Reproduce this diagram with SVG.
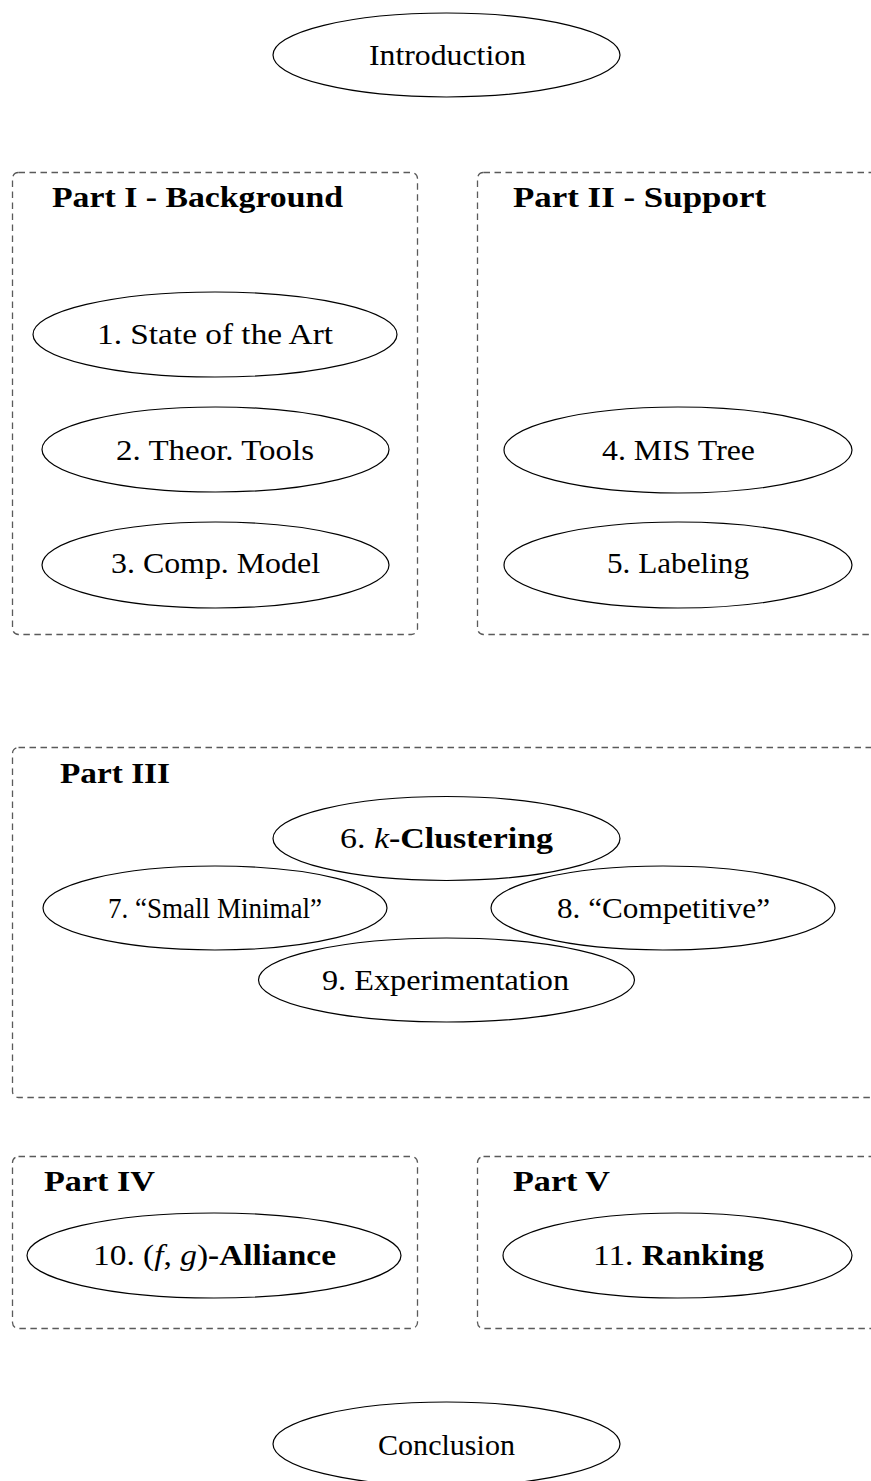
<svg xmlns="http://www.w3.org/2000/svg" width="871" height="1481" viewBox="0 0 871 1481">
<style>
  .part { fill: none; stroke: #5a5a5a; stroke-width: 1.3; stroke-dasharray: 6.5 4.5; }
  .node { fill: #ffffff; stroke: #000000; stroke-width: 1.2; }
  text { font-family: "Liberation Serif", "DejaVu Serif", serif; font-size: 30px; fill: #000000; }
  .title { font-weight: bold; }
  .b { font-weight: bold; }
  .i { font-style: italic; }
</style>
<rect width="871" height="1481" fill="#ffffff"/>
<g id="connectors"></g>
<g id="part1">
  <rect class="part" x="12.5" y="172.5" width="405" height="462" rx="6"/>
  <text class="title" x="52" y="207" textLength="291" lengthAdjust="spacingAndGlyphs">Part I - Background</text>
</g>
<g id="part2">
  <rect class="part" x="477.5" y="172.5" width="405" height="462" rx="6"/>
  <text class="title" x="513" y="207" textLength="253" lengthAdjust="spacingAndGlyphs">Part II - Support</text>
</g>
<g id="part3">
  <rect class="part" x="12.5" y="747.5" width="870" height="350" rx="6"/>
  <text class="title" x="60" y="783" textLength="110" lengthAdjust="spacingAndGlyphs">Part III</text>
</g>
<g id="part4">
  <rect class="part" x="12.5" y="1156.5" width="405" height="172" rx="6"/>
  <text class="title" x="44" y="1191" textLength="111" lengthAdjust="spacingAndGlyphs">Part IV</text>
</g>
<g id="part5">
  <rect class="part" x="477.5" y="1156.5" width="405" height="172" rx="6"/>
  <text class="title" x="513" y="1191" textLength="97" lengthAdjust="spacingAndGlyphs">Part V</text>
</g>
<g id="introduction">
  <ellipse class="node" cx="446.5" cy="55" rx="173.5" ry="42"/>
  <text x="369" y="65" textLength="157" lengthAdjust="spacingAndGlyphs">Introduction</text>
</g>
<g id="n1">
  <ellipse class="node" cx="215" cy="334.5" rx="182" ry="42.5"/>
  <text x="97" y="344" textLength="236" lengthAdjust="spacingAndGlyphs">1. State of the Art</text>
</g>
<g id="n2">
  <ellipse class="node" cx="215.5" cy="449.5" rx="173.5" ry="42.5"/>
  <text x="116" y="460" textLength="198" lengthAdjust="spacingAndGlyphs">2. Theor. Tools</text>
</g>
<g id="n3">
  <ellipse class="node" cx="215.5" cy="565" rx="173.5" ry="43"/>
  <text x="111" y="573" textLength="209" lengthAdjust="spacingAndGlyphs">3. Comp. Model</text>
</g>
<g id="n4">
  <ellipse class="node" cx="678" cy="450" rx="174" ry="43"/>
  <text x="602" y="460" textLength="153" lengthAdjust="spacingAndGlyphs">4. MIS Tree</text>
</g>
<g id="n5">
  <ellipse class="node" cx="678" cy="565" rx="174" ry="43"/>
  <text x="607" y="573" textLength="142" lengthAdjust="spacingAndGlyphs">5. Labeling</text>
</g>
<g id="n6">
  <ellipse class="node" cx="446.5" cy="838.5" rx="173.5" ry="42"/>
  <text x="340" y="848" textLength="213" lengthAdjust="spacingAndGlyphs">6. <tspan class="i">k</tspan><tspan class="b">-Clustering</tspan></text>
</g>
<g id="n7">
  <ellipse class="node" cx="215" cy="908" rx="172" ry="42"/>
  <text x="108" y="918" textLength="214" lengthAdjust="spacingAndGlyphs">7. “Small Minimal”</text>
</g>
<g id="n8">
  <ellipse class="node" cx="663" cy="908" rx="172" ry="42"/>
  <text x="557" y="918" textLength="213" lengthAdjust="spacingAndGlyphs">8. “Competitive”</text>
</g>
<g id="n9">
  <ellipse class="node" cx="446.5" cy="980" rx="188" ry="42"/>
  <text x="322" y="990" textLength="247" lengthAdjust="spacingAndGlyphs">9. Experimentation</text>
</g>
<g id="n10">
  <ellipse class="node" cx="214" cy="1255.5" rx="187" ry="42.5"/>
  <text x="93" y="1265" textLength="243" lengthAdjust="spacingAndGlyphs">10. (<tspan class="i">f</tspan>, <tspan class="i">g</tspan>)<tspan class="b">-Alliance</tspan></text>
</g>
<g id="n11">
  <ellipse class="node" cx="677.5" cy="1255.5" rx="174.5" ry="42.5"/>
  <text x="593" y="1265" textLength="171" lengthAdjust="spacingAndGlyphs">11. <tspan class="b">Ranking</tspan></text>
</g>
<g id="conclusion">
  <ellipse class="node" cx="446.5" cy="1444" rx="173.5" ry="42"/>
  <text x="378" y="1455" textLength="137" lengthAdjust="spacingAndGlyphs">Conclusion</text>
</g>
</svg>
